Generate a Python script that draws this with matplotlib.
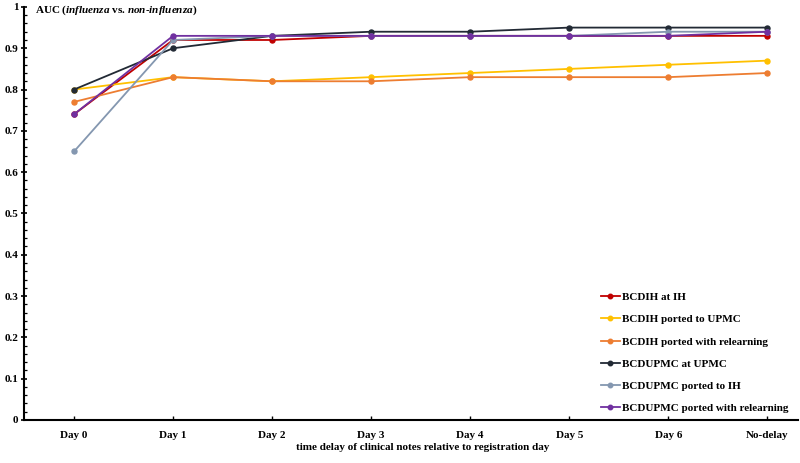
import matplotlib.pyplot as plt
from matplotlib.ticker import MultipleLocator

days = ['Day 0', 'Day 1', 'Day 2', 'Day 3', 'Day 4', 'Day 5', 'Day 6', 'No-delay']

bcdih_ih = [0.74, 0.92, 0.92, 0.93, 0.93, 0.93, 0.93, 0.93]
bcdih_upmc = [0.80, 0.83, 0.82, 0.83, 0.84, 0.85, 0.86, 0.87]
bcdih_relearn = [0.77, 0.83, 0.82, 0.82, 0.83, 0.83, 0.83, 0.84]
bcdupmc_upmc = [0.80, 0.90, 0.93, 0.94, 0.94, 0.95, 0.95, 0.95]
bcdupmc_ih = [0.65, 0.92, 0.93, 0.93, 0.93, 0.93, 0.94, 0.94]
bcdupmc_relearn = [0.74, 0.93, 0.93, 0.93, 0.93, 0.93, 0.93, 0.94]

yticks = [i / 10 for i in range(11)]
ytick_labels = ['0', '0.1', '0.2', '0.3', '0.4', '0.5', '0.6', '0.7', '0.8', '0.9', '1']

series = [
    ('BCDIH at IH', bcdih_ih, '#C00000'),
    ('BCDIH ported to UPMC', bcdih_upmc, '#FFC000'),
    ('BCDIH ported with relearning', bcdih_relearn, '#ED7D31'),
    ('BCDUPMC at UPMC', bcdupmc_upmc, '#222A35'),
    ('BCDUPMC ported to IH', bcdupmc_ih, '#8497B0'),
    ('BCDUPMC ported with relearning', bcdupmc_relearn, '#7030A0'),
]

plt.rcParams['font.family'] = ['Liberation Serif', 'DejaVu Serif']
plt.rcParams['font.weight'] = 'bold'
plt.rcParams['mathtext.fontset'] = 'custom'
plt.rcParams['mathtext.it'] = 'Liberation Serif:italic:bold'
plt.rcParams['mathtext.rm'] = 'Liberation Serif:bold'

fs = 8

fig = plt.figure(figsize=(8, 4.63), dpi=100)
ax = fig.add_axes([0.0306, 0.093, 0.9669, 0.892])

x = list(range(len(days)))
for name, vals, col in series:
    ax.plot(x, vals, color=col, marker='o', markersize=3.6, linewidth=1.3, label=name)

ax.set_xlim(-0.5, 7.31)
ax.set_ylim(0, 1)
ax.set_xticks(x)
ax.set_xticklabels(days, fontsize=fs, fontweight='bold')
ax.yaxis.set_minor_locator(MultipleLocator(0.02))
ax.set_yticks(yticks)
ax.set_yticklabels(ytick_labels, fontsize=fs, fontweight='bold')
ax.tick_params(axis='y', which='major', direction='inout', length=5, width=1.2, pad=2)
ax.tick_params(axis='y', which='minor', direction='in', length=2.5, width=0.9)
ax.tick_params(axis='x', which='major', direction='in', length=3, width=1, pad=8)

for side in ['top', 'right']:
    ax.spines[side].set_visible(False)
ax.spines['left'].set_linewidth(1.5)
ax.spines['bottom'].set_linewidth(1.5)

fig.text(35 / 800, 1 - 10 / 463,
         r'AUC ($\mathit{influenza}$ vs. $\mathit{non}$-$\mathit{influenza}$)',
         fontsize=fs, fontweight='bold', va='center', ha='left')

fig.text(423 / 800, 1 - 447 / 463, 'time delay of clinical notes relative to registration day',
         ha='center', va='center', fontsize=fs, fontweight='bold')

leg = ax.legend(loc='lower right', bbox_to_anchor=(1.0, -0.008), frameon=False,
                fontsize=fs, handlelength=1.7, handletextpad=0.15, labelspacing=1.12,
                markerscale=0.9)
for t in leg.get_texts():
    t.set_fontweight('bold')

fig.savefig('out.png', dpi=100)
